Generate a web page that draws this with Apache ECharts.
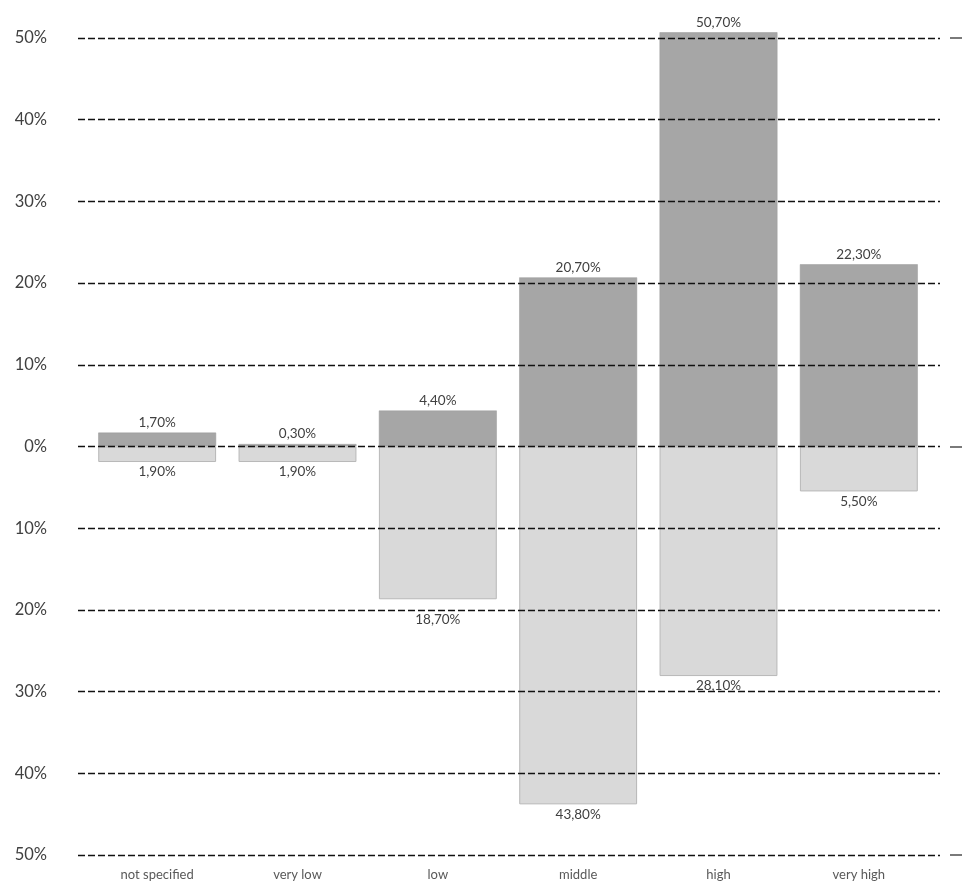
<!DOCTYPE html>
<html>
<head>
<meta charset="utf-8">
<script src="https://cdn.jsdelivr.net/npm/echarts@6/dist/echarts.min.js"></script>
<style>
  html, body { margin: 0; padding: 0; background: #fff; }
  #chart { width: 962px; height: 882px; }
</style>
</head>
<body>
<div id="chart"></div>
<script>
// Categories along the x axis
const categories = ['not specified', 'very low', 'low', 'middle', 'high', 'very high'];
// Upper (dark) bars, percent
const upperValues = [1.7, 0.3, 4.4, 20.7, 50.7, 22.3];
// Lower (light) bars, percent, drawn downward from zero
const lowerValues = [1.9, 1.9, 18.7, 43.8, 28.1, 5.5];
// Value axis range and step
const axisMin = -50, axisMax = 50, axisStep = 10;

const fontFamily = 'Lato, "Open Sans", sans-serif';
const fmtPct = v => Math.abs(v).toFixed(2).replace('.', ',') + '%';

// dashed reference lines, one per axis step, drawn above the bars
const gridValues = [];
for (let v = axisMin; v <= axisMax; v += axisStep) gridValues.push(v);

const chart = echarts.init(document.getElementById('chart'));
chart.setOption({
  animation: false,
  grid: [
    // wide grid carrying the dashed reference lines
    { left: 78, right: 22, top: 38, bottom: 27 },
    // inner grid carrying the bars
    { left: 87, right: 33, top: 38, bottom: 27 }
  ],
  xAxis: [
    { type: 'category', gridIndex: 0, data: categories, show: false },
    {
      type: 'category', gridIndex: 1, data: categories,
      axisLine: { show: false }, axisTick: { show: false },
      axisLabel: { color: '#595959', fontSize: 13, fontFamily, margin: 13 }
    }
  ],
  yAxis: [
    {
      type: 'value', gridIndex: 0, min: axisMin, max: axisMax, interval: axisStep,
      axisLine: { show: false }, axisTick: { show: false },
      axisLabel: {
        color: '#404040', fontSize: 16.5, fontFamily, margin: 31,
        formatter: v => Math.abs(v) + '%'
      },
      splitLine: { show: false }
    },
    {
      type: 'value', gridIndex: 1, min: axisMin, max: axisMax, interval: axisStep,
      show: false, splitLine: { show: false }
    },
    {
      // short solid ticks on the right side
      type: 'value', gridIndex: 0, position: 'right', offset: 10,
      min: axisMin, max: axisMax, interval: 50,
      axisLine: { show: false }, axisLabel: { show: false },
      axisTick: { show: true, length: 15, lineStyle: { color: '#7a7a7a', width: 2 } },
      splitLine: { show: false }
    }
  ],
  series: [
    {
      type: 'bar', xAxisIndex: 1, yAxisIndex: 1, stack: 'total', clip: false,
      data: upperValues, barWidth: '84%',
      itemStyle: { color: '#a6a6a6', borderColor: '#9a9a9a', borderWidth: 0.5 },
      label: {
        show: true, position: 'top', distance: 3,
        color: '#404040', fontSize: 13.5, fontFamily,
        formatter: p => fmtPct(p.value)
      }
    },
    {
      type: 'bar', xAxisIndex: 1, yAxisIndex: 1, stack: 'total', clip: false,
      // the "low" label is pushed below the nearby 20% line
      data: lowerValues.map((v, i) => i === 2 ? { value: -v, label: { distance: 13 } } : -v),
      barWidth: '84%',
      itemStyle: { color: '#d9d9d9', borderColor: '#b8b8b8', borderWidth: 1 },
      label: {
        show: true, position: 'bottom', distance: 3,
        color: '#404040', fontSize: 13.5, fontFamily,
        formatter: p => fmtPct(p.value)
      }
    },
    {
      type: 'line', xAxisIndex: 0, yAxisIndex: 0, data: [], z: 10, silent: true,
      markLine: {
        silent: true, symbol: 'none', label: { show: false },
        lineStyle: { color: '#111', width: 1.4, type: [7, 3] },
        data: gridValues.map(v => ({ yAxis: v }))
      }
    }
  ]
});
</script>
</body>
</html>
